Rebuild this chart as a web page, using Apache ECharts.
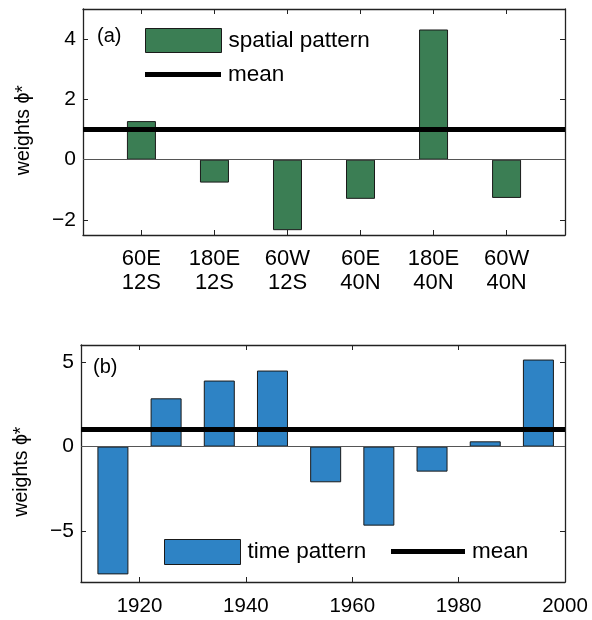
<!DOCTYPE html>
<html>
<head>
<meta charset="utf-8">
<script src="https://cdn.jsdelivr.net/npm/echarts@6/dist/echarts.min.js"></script>
<style>
  html, body { margin: 0; padding: 0; background: #fff; }
  #chart { width: 592px; height: 620px; }
</style>
</head>
<body>
<div id="chart"></div>
<script>
// panel (a): spatial pattern
var sitesA = ['60E\n12S', '180E\n12S', '60W\n12S', '60E\n40N', '180E\n40N', '60W\n40N'];
var spatialA = [1.28, -0.76, -2.34, -1.30, 4.32, -1.27];
var meanA = 1;
var yTicksA = [-2, 0, 2, 4];

// panel (b): time pattern
var yearsB = [1915, 1925, 1935, 1945, 1955, 1965, 1975, 1985, 1995];
var timeB = [-7.55, 2.85, 3.90, 4.49, -2.11, -4.67, -1.48, 0.31, 5.14];
var meanB = 1;
var yTicksB = [-5, 0, 5];
var xTicksB = [1920, 1940, 1960, 1980, 2000];

var FONT = 'Liberation Sans';
var GREEN = '#3b7e54';
var BLUE = '#2e83c5';
var posA = sitesA.map(function (s, i) { return i + 1; });

function minus(v) { return v < 0 ? '\u2212' + Math.abs(v) : String(v); }

function xAx(grid, min, max, ticks, pos, fmt, size) {
    return {
        type: 'value', gridIndex: grid, position: pos, min: min, max: max,
        axisLine: { show: true, onZero: false, lineStyle: { color: '#222', width: 1.3 } },
        axisTick: { show: true, inside: true, length: 5, customValues: ticks, lineStyle: { color: '#222' } },
        axisLabel: fmt ? { show: true, customValues: ticks, formatter: fmt, margin: 12,
            fontFamily: FONT, fontSize: size, color: '#000', lineHeight: 24 } : { show: false },
        splitLine: { show: false }
    };
}
function yAx(grid, min, max, ticks, pos, withLabel) {
    return {
        type: 'value', gridIndex: grid, position: pos, min: min, max: max,
        // trailing spaces push the rotated name down a little, as in the figure
        name: withLabel ? 'weights \u03d5*   ' : '',
        nameLocation: 'middle', nameGap: 49,
        nameTextStyle: { fontFamily: FONT, fontSize: 19.5, color: '#000' },
        axisLine: { show: true, onZero: false, lineStyle: { color: '#222', width: 1.3 } },
        axisTick: { show: true, inside: true, length: 5, customValues: ticks, lineStyle: { color: '#222' } },
        axisLabel: withLabel ? { show: true, customValues: ticks, formatter: minus, margin: 7,
            fontFamily: FONT, fontSize: 21, color: '#000' } : { show: false },
        splitLine: { show: false }
    };
}
function zeroLine() {
    return { silent: true, symbol: 'none', label: { show: false },
        lineStyle: { color: '#555', width: 1, type: 'solid' }, data: [{ yAxis: 0 }] };
}
function meanLine(v) {
    return { silent: true, symbol: 'none', label: { show: false },
        lineStyle: { color: '#000', width: 5, type: 'solid' }, data: [{ yAxis: v }] };
}
function legendOpt(name, left, top, w, h, style) {
    return {
        data: [{ name: name, icon: 'rect', itemStyle: style }],
        left: left, top: top, padding: 0, itemWidth: w, itemHeight: h, itemGap: 0,
        selectedMode: false,
        textStyle: { fontFamily: FONT, fontSize: 22.5, color: '#000', padding: [0, 0, 0, 2] }
    };
}

var chart = echarts.init(document.getElementById('chart'));
chart.setOption({
    animation: false,
    backgroundColor: '#fff',
    title: [
        { text: '(a)', left: 97, top: 26, padding: 0, textStyle: { fontFamily: FONT, fontSize: 20, fontWeight: 'normal', color: '#000' } },
        { text: '(b)', left: 93, top: 357, padding: 0, textStyle: { fontFamily: FONT, fontSize: 20, fontWeight: 'normal', color: '#000' } }
    ],
    grid: [
        { left: 83, right: 27, top: 9, height: 226 },
        { left: 81, right: 27, top: 345, height: 237 }
    ],
    xAxis: [
        xAx(0, 0.2, 6.8, posA, 'bottom', function (v) { return sitesA[Math.round(v) - 1]; }, 22),
        xAx(0, 0.2, 6.8, posA, 'top', null),
        xAx(1, 1909, 2000, xTicksB, 'bottom', function (v) { return String(v); }, 20.5),
        xAx(1, 1909, 2000, xTicksB, 'top', null)
    ],
    yAxis: [
        yAx(0, -2.5, 5, yTicksA, 'left', true),
        yAx(0, -2.5, 5, yTicksA, 'right', false),
        yAx(1, -8, 6, yTicksB, 'left', true),
        yAx(1, -8, 6, yTicksB, 'right', false)
    ],
    legend: [
        legendOpt('spatial pattern', 145, 28, 76, 24, { color: GREEN, borderColor: '#1a1a1a', borderWidth: 1 }),
        legendOpt('mean', 145, 63, 76, 5, { color: '#000', borderWidth: 0 }),
        legendOpt('time pattern', 164, 539, 76, 25, { color: BLUE, borderColor: '#1a1a1a', borderWidth: 1 }),
        legendOpt('mean', 391, 540, 74, 5, { color: '#000', borderWidth: 0 })
    ],
    series: [
        {
            name: 'spatial pattern', type: 'bar', xAxisIndex: 0, yAxisIndex: 0, barWidth: 29,
            itemStyle: { color: GREEN, borderColor: '#1a1a1a', borderWidth: 1 },
            data: posA.map(function (p, i) { return [p, spatialA[i]]; }),
            markLine: zeroLine()
        },
        {
            name: 'mean', type: 'line', xAxisIndex: 0, yAxisIndex: 0, color: '#000',
            data: [], markLine: meanLine(meanA)
        },
        {
            name: 'time pattern', type: 'bar', xAxisIndex: 2, yAxisIndex: 2, barWidth: 31,
            itemStyle: { color: BLUE, borderColor: '#1a1a1a', borderWidth: 1 },
            data: yearsB.map(function (y, i) { return [y, timeB[i]]; }),
            markLine: zeroLine()
        },
        {
            name: 'mean', type: 'line', xAxisIndex: 2, yAxisIndex: 2, color: '#000',
            data: [], markLine: meanLine(meanB)
        }
    ]
});
</script>
</body>
</html>
